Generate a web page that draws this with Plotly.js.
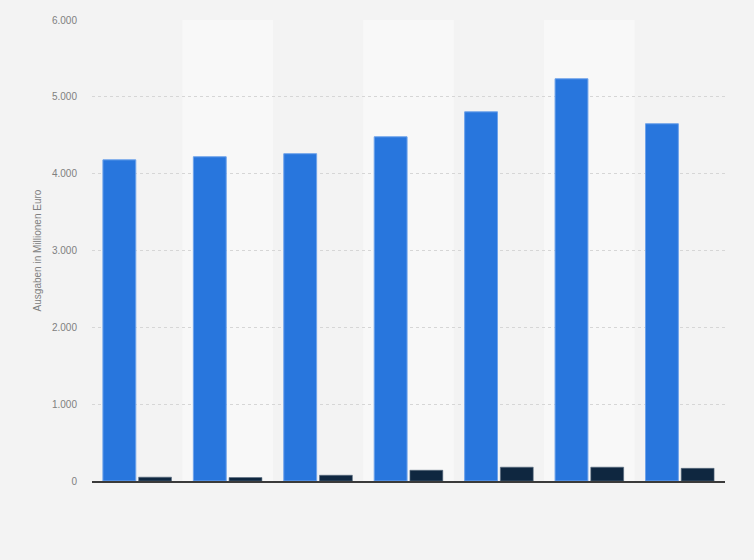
<!DOCTYPE html>
<html>
<head>
<meta charset="utf-8">
<script src="https://cdn.plot.ly/plotly-3.0.1.min.js"></script>
<style>
  html, body { margin: 0; padding: 0; background: #f3f3f3; }
  #chart { width: 754px; height: 560px; }
</style>
</head>
<body>
<div id="chart"></div>
<script>
// data (x labels are not shown in the reference)
const categories = ['1', '2', '3', '4', '5', '6', '7'];
const seriesA = [4180, 4220, 4260, 4480, 4805, 5235, 4650];
const seriesB = [50, 45, 75, 140, 180, 180, 165];

// lighter band behind every second category
const bands = categories
  .map((c, i) => i)
  .filter(i => i % 2 === 1)
  .map(i => ({
    type: 'rect', xref: 'x', yref: 'paper',
    x0: i - 0.5, x1: i + 0.5, y0: 0, y1: 1,
    fillcolor: '#f8f8f8', line: { width: 0 }, layer: 'below'
  }));

Plotly.newPlot('chart', [
  {
    x: categories,
    y: seriesA,
    type: 'bar',
    marker: { color: '#2876dd', line: { color: '#6fa3ea', width: 1 } },
    hoverinfo: 'y'
  },
  {
    x: categories,
    y: seriesB,
    type: 'bar',
    marker: { color: '#0f2740', line: { color: '#5d6f82', width: 0.6 } },
    hoverinfo: 'y'
  }
], {
  width: 754,
  height: 560,
  margin: { l: 92, r: 29, t: 20, b: 79 },
  paper_bgcolor: '#f3f3f3',
  plot_bgcolor: '#f3f3f3',
  separators: ',.',
  showlegend: false,
  barmode: 'group',
  bargap: 0.21,
  bargroupgap: 0.08,
  shapes: bands,
  font: { family: '"Liberation Sans", Arial, sans-serif', color: '#777' },
  xaxis: {
    type: 'category',
    showticklabels: false,
    ticks: '',
    showgrid: false,
    showline: true,
    linecolor: '#3a3a3a',
    linewidth: 1.5,
    zeroline: false
  },
  yaxis: {
    range: [0, 6000],
    dtick: 1000,
    tickformat: ',d',
    showgrid: true,
    gridcolor: '#d6d6d6',
    griddash: 'dot',
    gridwidth: 1,
    zeroline: false,
    ticks: '',
    ticklen: 0,
    ticklabelstandoff: 14,
    tickfont: { size: 10, color: '#808080' },
    title: { text: 'Ausgaben in Millionen Euro', font: { size: 10, color: '#808080' }, standoff: 8 }
  }
}, { displayModeBar: false });
</script>
</body>
</html>
